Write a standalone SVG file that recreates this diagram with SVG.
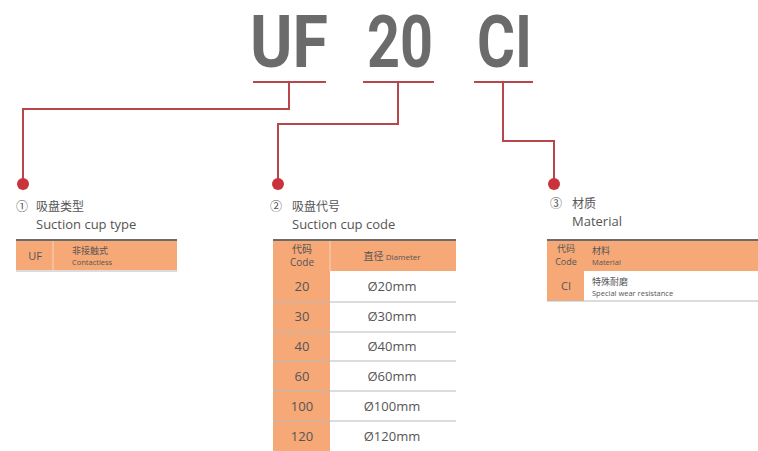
<svg xmlns="http://www.w3.org/2000/svg" width="758" height="451" viewBox="0 0 758 451">
<style>
.title{font-family:Roboto,"Liberation Sans",sans-serif;font-weight:bold;font-size:72px;fill:#6b6b6b}
.conn{fill:none;stroke:#b8474c;stroke-width:2}
.dot{fill:#c9343c}
.cn{font-family:"Noto Sans CJK SC",sans-serif;fill:#555}
.en{font-family:"Open Sans","Noto Sans",sans-serif;fill:#555}
.or{fill:#f6a877}
.top{stroke:#6a6a6a;stroke-width:2}
.sep{stroke:#b9b9b9;stroke-width:1}
.h{font-size:12px}
.e{font-size:13px}
.s{font-size:9px}
.xs{font-size:7.5px}
.m{font-size:13px}
</style>
<rect width="758" height="451" fill="#ffffff"/>
<g id="title">
<text class="title" x="250" y="67" textLength="78" lengthAdjust="spacingAndGlyphs">UF</text>
<text class="title" x="367" y="67" textLength="66" lengthAdjust="spacingAndGlyphs">20</text>
<text class="title" x="477" y="67" textLength="55" lengthAdjust="spacingAndGlyphs">CI</text>
</g>
<g id="connectors">
<path class="conn" d="M253 82H326M363 82H434M474 82H533"/>
<path class="conn" d="M289 82V109H23V184"/>
<path class="conn" d="M398 82V124H278V184"/>
<path class="conn" d="M503 82V141H554V184"/>
<circle class="dot" cx="23" cy="184" r="6"/>
<circle class="dot" cx="278" cy="184" r="6"/>
<circle class="dot" cx="554" cy="184" r="6"/>
</g>
<g id="type">
<text class="cn h" x="16" y="211">①</text>
<text class="cn h" x="36" y="211">吸盘类型</text>
<text class="en e" x="36" y="229">Suction cup type</text>
<rect class="or" x="16" y="240" width="161" height="30"/>
<line class="top" x1="16" y1="240" x2="177" y2="240"/>
<line x1="53" y1="241" x2="53" y2="270" stroke="#fbd3b8" stroke-width="1"/>
<line class="sep" x1="16" y1="271" x2="177" y2="271"/>
<text class="en" x="35" y="260" font-size="11" text-anchor="middle">UF</text>
<text class="cn s" x="72" y="254">非接触式</text>
<text class="en xs" x="72" y="265">Contactless</text>
</g>
<g id="code">
<text class="cn h" x="270" y="211">②</text>
<text class="cn h" x="292" y="211">吸盘代号</text>
<text class="en e" x="292" y="229">Suction cup code</text>
<rect class="or" x="273" y="240" width="183" height="31"/>
<rect class="or" x="273" y="240" width="57" height="211"/>
<line class="top" x1="273" y1="240" x2="456" y2="240"/>
<line x1="330" y1="241" x2="330" y2="271" stroke="#fbd3b8" stroke-width="1"/>
<line class="sep" x1="273" y1="302" x2="456" y2="302"/>
<line class="sep" x1="273" y1="332" x2="456" y2="332"/>
<line class="sep" x1="273" y1="361" x2="456" y2="361"/>
<line class="sep" x1="273" y1="391" x2="456" y2="391"/>
<line class="sep" x1="273" y1="421" x2="456" y2="421"/>
<text class="cn" x="302" y="253" font-size="10" text-anchor="middle">代码</text>
<text class="en" x="302" y="266" font-size="10" text-anchor="middle">Code</text>
<text x="392" y="260" text-anchor="middle"><tspan class="cn" font-size="10">直径 </tspan><tspan class="en" font-size="8">Diameter</tspan></text>
<g class="en m" text-anchor="middle">
<text x="302" y="291">20</text><text x="392" y="291">Ø20mm</text>
<text x="302" y="321">30</text><text x="392" y="321">Ø30mm</text>
<text x="302" y="351">40</text><text x="392" y="351">Ø40mm</text>
<text x="302" y="381">60</text><text x="392" y="381">Ø60mm</text>
<text x="302" y="411">100</text><text x="392" y="411">Ø100mm</text>
<text x="302" y="441">120</text><text x="392" y="441">Ø120mm</text>
</g>
</g>
<g id="material">
<text class="cn h" x="550" y="208">③</text>
<text class="cn h" x="572" y="208">材质</text>
<text class="en e" x="572" y="226">Material</text>
<rect class="or" x="547" y="240" width="211" height="31"/>
<rect class="or" x="547" y="240" width="37" height="61"/>
<line class="top" x1="547" y1="240" x2="758" y2="240"/>
<line class="sep" x1="547" y1="301" x2="758" y2="301"/>
<text class="cn" x="566" y="252" font-size="9" text-anchor="middle" fill="#c8643c">代码</text>
<text class="en" x="566" y="265" font-size="9" text-anchor="middle">Code</text>
<text class="cn s" x="592" y="254" fill="#c8643c">材料</text>
<text class="en xs" x="592" y="265" fill="#c8643c">Material</text>
<text class="en" x="566" y="290" font-size="11" text-anchor="middle">CI</text>
<text class="cn s" x="592" y="285">特殊耐磨</text>
<text class="en xs" x="592" y="296">Special wear resistance</text>
</g>
</svg>
